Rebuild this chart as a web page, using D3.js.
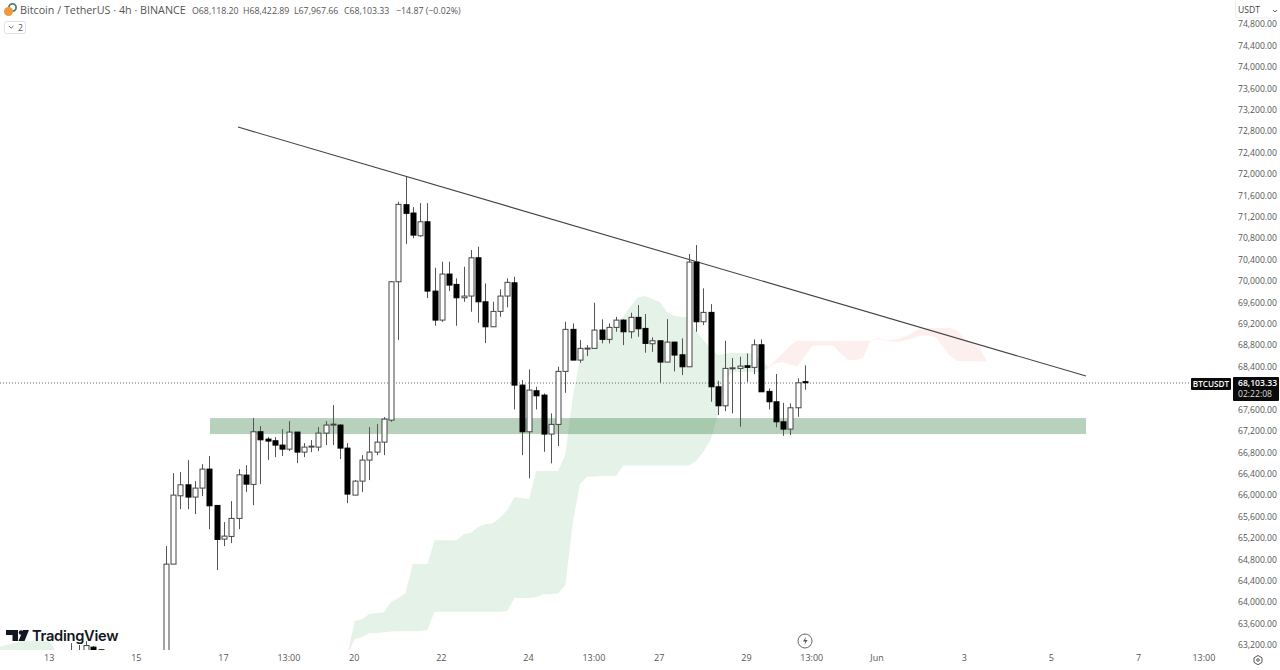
<!DOCTYPE html>
<html>
<head>
<meta charset="utf-8">
<script src="https://cdn.jsdelivr.net/npm/d3@7/dist/d3.min.js"></script>
<style>
html, body { margin: 0; padding: 0; background: #fff; overflow: hidden; }
svg { display: block; font-family: "Open Sans", "Noto Sans", sans-serif; }
</style>
</head>
<body>
<svg id="chart" width="1280" height="670"></svg>
<script>
// bar number 0 is the 4h candle on the "17" label
var firstBar = -21;
var highs = [63235,63200,63272,63179,63120,63000,62850,62700,62600,62600,62700,62600,62700,65047,
66411,66430,66654,66261,66579,66729,65813,65495,65888,66486,66560,67439,67289,67084,67084,67233,67382,67177,66971,67027,67270,67382,67681,67326,66971,66280,66747,67270,67326,67457,
69998,71480,71947,71381,71455,71455,70247,70359,70359,70049,70265,70577,70639,69955,69611,69843,70049,70078,68148,68348,68023,67900,67526,68397,69238,69208,68896,68802,
69593,69283,69208,69331,69283,69406,69550,69382,68946,68883,69288,68864,68928,70503,70671,69862,69568,68135,68883,68559,68584,68647,68909,68909,67993,68261,67724,67713,68180,68422.89];
var lows = [62700,62800,62900,62950,62990,62700,62500,62300,62200,62200,62300,62200,62200,62544,
64711,65738,65738,65645,65981,65365,64599,65047,65103,65365,66056,65813,66205,66654,66710,66729,66822,66598,66710,66803,66822,66934,66934,66673,65850,66000,66056,66280,66747,66747,
67369,68896,70689,70801,70826,69680,69163,69238,69811,69163,69611,69425,69219,68840,69144,69331,69507,67601,66747,66312,67601,66809,66592,66915,67911,68522,68472,68597,
68741,68834,68834,69051,68802,68928,68958,68659,68677,68098,68485,68311,68242,68397,69051,69176,67743,67495,67569,67526,67276,68117,68261,67930,67601,67265,67108,67121,67463,67967.66];
var opens = [62850,62900,62950,63160,63110,62950,62800,62600,62400,62300,62500,62450,62350,62544,
64711,65987,66192,65963,66131,66486,65807,65178,65228,65565,66374,66200,67183,67046,67015,66934,66859,67177,66803,66897,66897,67158,67308,67308,66878,66000,66261,66654,66803,66990,
67401,69985,71424,71269,70844,71106,69811,69269,70129,69936,69686,69718,70433,69611,69144,69432,69718,69966,68055,67183,67949,67868,67140,67321,68311,69096,68522,68733,
68741,69083,68909,69133,69269,69051,69320,69114,68827,68883,68485,68858,68621,68397,70353,69238,69413,68023,67668,68367,68367,68416,68386,68808,67937,67743,67369,67233,67631,68118.20];
var closes = [62950,62820,63190,63000,63060,62800,62600,62400,62300,62500,62450,62350,62540,64711,
66000,66192,65963,66131,66486,65800,65172,65234,65565,66379,66205,67183,67033,67009,66934,66859,67177,66803,66897,66915,67158,67308,67326,66878,66019,66261,66654,66803,66990,67420,
69985,71431,71263,70857,71106,69811,69269,70129,69923,69686,69718,70433,69611,69144,69432,69718,69974,68055,67183,67962,67855,67140,67321,68311,69096,68522,68741,68746,
69083,68909,69133,69269,69051,69320,69107,68834,68883,68485,68858,68616,68397,70353,69238,69413,68023,67668,68367,68378,68410,68386,68808,67930,67743,67369,67233,67631,68098,68103.33];

// ichimoku cloud edges, one value per bar
var greenBar = 17;
var greenTop = [63011,63646,63683,63777,63795,63814,64001,64076,64169,64711,64711,64711,65159,65159,65159,65159,65271,65296,65402,65458,65468,65570,65720,65963,65944,65925,66448,66448,66448,66448,66747,67812,68522,68709,68821,68896,69027,69176,69344,69531,69690,69718,69662,69606,69419,69344,69325,69325,69064,68896,68746,68616,68634,68653,68653,68653,68634,68503,68391];
var greenBottom = [63011,63310,63347,63422,63422,63440,63450,63459,63459,63459,63459,63478,63820,63820,63820,63820,63820,63820,63820,63820,63820,63820,63833,64076,64076,64076,64094,64150,64150,64160,64318,65458,66205,66342,66346,66355,66355,66361,66551,66551,66551,66551,66551,66551,66551,66551,66551,66555,66635,66803,67027,67495,68148,68298,68298,68298,68298,68298,68373];
var redBar = 75;
var redTop = [68391,68522,68653,68802,68883,68883,68883,68883,68883,68883,68883,68883,68883,68883,68886,68933,68896,68896,68924,68971,69045,69120,69120,69120,69120,69120,69064,68914,68840,68765,68503];
var redBottom = [68382,68466,68485,68429,68410,68597,68784,68793,68793,68784,68634,68522,68522,68559,68877,68914,68886,68868,68858,68896,68933,68980,68980,68952,68765,68597,68503,68503,68503,68494,68494];
var earlyBar = -31;
var earlyTop = [63160,63200,63235,63272,63272,63272,63272,63272,63050];
var earlyBottom = [63000,63000,63000,63000,63000,63000,63000,63000,63000];

var priceTicks = [74800,74400,74000,73600,73200,72800,72400,72000,71600,71200,70800,70400,70000,69600,69200,68800,68400,68000,67600,67200,66800,66400,66000,65600,65200,64800,64400,64000,63600,63200];
var timeBars = [-24,-12,0,9,18,30,42,51,60,72,81,90,102,114,126,135];
var timeLabels = ["13","15","17","13:00","20","22","24","13:00","27","29","13:00","Jun","3","5","7","13:00"];

var lastPrice = 68103.33;
var zoneBars = [-1.93,118.7];
var zonePrices = [67439,67140];
var trendBars = [1.93,118.7];
var trendPrices = [72875,68223];

var svg = d3.select("#chart");
var x = d3.scaleLinear().domain([0,90]).range([224,877.6]);
var y = d3.scaleLinear().domain([74800,63200]).range([24,645]);

svg.append("defs").append("clipPath").attr("id","pane")
  .append("rect").attr("x",0).attr("y",0).attr("width",1232).attr("height",650);
var pane = svg.append("g").attr("clip-path","url(#pane)");

// cloud
var drawCloud = function(start, top, bottom, color)
{
  var area = d3.area()
    .x(function(d,i) { return x(start+i); })
    .y0(function(d,i) { return y(bottom[i]); })
    .y1(function(d) { return y(d); });
  pane.append("path").datum(top).attr("d",area).attr("fill",color);
}
drawCloud(earlyBar,earlyTop,earlyBottom,"#e5f2e7");
drawCloud(greenBar,greenTop,greenBottom,"#e5f2e7");
drawCloud(redBar,redTop,redBottom,"#fdefed");

// last price line
pane.append("line").attr("x1",0).attr("x2",1190).attr("y1",y(lastPrice)+0.5).attr("y2",y(lastPrice)+0.5)
  .attr("stroke","#666").attr("stroke-width",1).attr("stroke-dasharray","1,2");

// candles
var bars = svg.append("g").attr("clip-path","url(#pane)").selectAll("g")
  .data(highs)
  .enter()
  .append("g")
  .attr("transform",function(d,i) { return "translate("+Math.round(x(firstBar+i))+",0)"; });
bars.append("line")
  .attr("x1",0.5).attr("x2",0.5)
  .attr("y1",function(d) { return y(d); })
  .attr("y2",function(d,i) { return y(lows[i]); })
  .attr("stroke","#555").attr("stroke-width",1);
bars.append("rect")
  .attr("x",-2).attr("width",5)
  .attr("y",function(d,i) { return y(Math.max(opens[i],closes[i])); })
  .attr("height",function(d,i) { return Math.max(1,Math.abs(y(opens[i])-y(closes[i]))); })
  .attr("fill",function(d,i) { return closes[i]>=opens[i] ? "#fff" : "#000"; })
  .attr("stroke",function(d,i) { return closes[i]>=opens[i] ? "#444" : "#000"; })
  .attr("stroke-width",1);

// support zone and trend line
pane.append("rect")
  .attr("x",x(zoneBars[0])).attr("width",x(zoneBars[1])-x(zoneBars[0]))
  .attr("y",y(zonePrices[0])).attr("height",y(zonePrices[1])-y(zonePrices[0]))
  .attr("fill","rgb(76,140,90)").attr("fill-opacity",0.4);
pane.append("line")
  .attr("x1",x(trendBars[0])).attr("x2",x(trendBars[1]))
  .attr("y1",y(trendPrices[0])).attr("y2",y(trendPrices[1]))
  .attr("stroke","#444").attr("stroke-width",1.1);

// axes
var priceAxis = d3.axisRight(y).tickValues(priceTicks).tickFormat(d3.format(",.2f")).tickSize(0).tickPadding(0);
var gy = svg.append("g").attr("transform","translate(1238,0)").call(priceAxis);
gy.select(".domain").remove();
gy.selectAll("text").attr("fill","#555").attr("font-size",8.6).attr("font-family","'Open Sans', sans-serif");
gy.selectAll(".tick").filter(function(d) { return d==68000; }).remove();

var timeAxis = d3.axisBottom(x).tickValues(timeBars).tickFormat(function(d,i) { return timeLabels[i]; }).tickSize(0).tickPadding(0);
var gx = svg.append("g").attr("transform","translate(-1,655)").call(timeAxis);
gx.select(".domain").remove();
gx.selectAll("text").attr("fill","#555").attr("font-size",9).attr("font-family","'Open Sans', sans-serif");

// price labels on the right
svg.append("rect").attr("x",1191).attr("y",378).attr("width",40).attr("height",12).attr("rx",1).attr("fill","#0a0a0a");
svg.append("text").attr("x",1211).attr("y",387).attr("text-anchor","middle").attr("fill","#fff").attr("font-size",8.2).attr("font-weight",600).text("BTCUSDT");
svg.append("rect").attr("x",1233).attr("y",377).attr("width",46).attr("height",24).attr("rx",1).attr("fill","#0a0a0a");
svg.append("text").attr("x",1238).attr("y",386).attr("fill","#fff").attr("font-size",8.6).attr("font-weight",600).text(d3.format(",.2f")(lastPrice));
svg.append("text").attr("x",1238).attr("y",397).attr("fill","#ddd").attr("font-size",8.6).text("02:22:08");

// currency box covers the first tick
svg.append("rect").attr("x",1232).attr("y",0).attr("width",48).attr("height",20).attr("fill","#fff");
svg.append("rect").attr("x",1235.5).attr("y",-3).attr("width",46).attr("height",21).attr("rx",3).attr("fill","#fff").attr("stroke","#eee");
svg.append("text").attr("x",1238).attr("y",13).attr("fill","#444").attr("font-size",8.6).text("USDT");
svg.append("path").attr("d","M1273 10l2 2l2-2").attr("fill","none").attr("stroke","#666");

// legend
svg.append("circle").attr("cx",12.5).attr("cy",7.5).attr("r",3.6).attr("fill","#fff").attr("stroke","#4b7f75").attr("stroke-width",1.8);
svg.append("circle").attr("cx",8.5).attr("cy",11.5).attr("r",4.5).attr("fill","#ee9a3c");
svg.append("text").attr("x",20).attr("y",14).attr("fill","#555").attr("font-size",10.75).text("Bitcoin / TetherUS · 4h · BINANCE");
svg.append("text").attr("x",192).attr("y",14).attr("fill","#555").attr("font-size",8.8).text("O68,118.20");
svg.append("text").attr("x",243).attr("y",14).attr("fill","#555").attr("font-size",8.8).text("H68,422.89");
svg.append("text").attr("x",294).attr("y",14).attr("fill","#555").attr("font-size",8.8).text("L67,967.66");
svg.append("text").attr("x",344).attr("y",14).attr("fill","#555").attr("font-size",8.8).text("C68,103.33");
svg.append("text").attr("x",396).attr("y",14).attr("fill","#555").attr("font-size",8.8).text("−14.87 (−0.02%)");
svg.append("rect").attr("x",4.5).attr("y",21.5).attr("width",21).attr("height",12).attr("rx",2).attr("fill","#fff").attr("stroke","#e2e2e2");
svg.append("path").attr("d","M9 26l2.2 2.2l2.2-2.2").attr("fill","none").attr("stroke","#666");
svg.append("text").attr("x",18).attr("y",31).attr("fill","#555").attr("font-size",8.6).text("2");

// logo
svg.append("path").attr("d","M6 630h12v11h-5.5v-6h-6.5z").attr("fill","#131722");
svg.append("circle").attr("cx",21).attr("cy",632.5).attr("r",2.2).attr("fill","#131722");
svg.append("path").attr("d","M23 630h6l-4.5 11h-6z").attr("fill","#131722");
svg.append("text").attr("x",32).attr("y",640.5).attr("fill","#131722").attr("font-family","Inter, sans-serif").attr("font-size",14.7).attr("font-weight",600).attr("letter-spacing",-0.3).text("TradingView");

// small icons
svg.append("circle").attr("cx",805).attr("cy",641).attr("r",7).attr("fill","#fff").attr("stroke","#666");
svg.append("path").attr("d","M806 636.5l-3 5h2.4l-1 3.5l3.2-5h-2.4z").attr("fill","#555");
svg.append("path").attr("d","M1258 655.5l4 2.3v4.6l-4 2.3l-4-2.3v-4.6z").attr("fill","none").attr("stroke","#555").attr("stroke-linejoin","round");
svg.append("circle").attr("cx",1258).attr("cy",660).attr("r",1.3).attr("fill","none").attr("stroke","#555");
</script>
</body>
</html>
